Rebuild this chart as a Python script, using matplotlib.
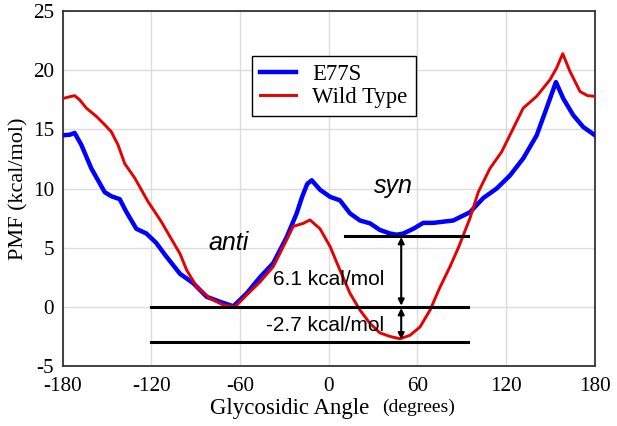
import numpy as np
import matplotlib.pyplot as plt

plt.rcParams["axes.unicode_minus"] = False

# PMF profiles (angle in degrees, PMF in kcal/mol)
e77s_angle = [-180, -175, -171.8, -167.3, -160.5, -151.5, -147, -141.3, -136.9, -130.1,
              -123.3, -116.6, -110.7, -100.6, -91.6, -82.5, -73.5, -64.5, -55.5, -46.5,
              -37.5, -28.4, -21.7, -18, -14.5, -11.5, -5.9, 0.9, 7.6, 14.4, 21.1, 27.9,
              34.6, 41.4, 46, 50.4, 57.2, 63.9, 70.7, 84.2, 95.5, 104.5, 113.5, 122.5,
              131.5, 140.6, 147.3, 153.6, 158.6, 165.3, 172.1, 180]
e77s_pmf = [14.5, 14.55, 14.7, 13.7, 11.7, 9.7, 9.35, 9.1, 8.04, 6.6,
            6.2, 5.4, 4.4, 2.8, 2.0, 0.85, 0.43, 0.05, 1.14, 2.5,
            3.7, 5.9, 7.9, 9.3, 10.4, 10.7, 9.9, 9.3, 9.0, 7.9, 7.3, 7.06,
            6.5, 6.2, 6.1, 6.2, 6.6, 7.1, 7.1, 7.3, 8.0, 9.2, 10.0, 11.1,
            12.55, 14.5, 16.8, 19.0, 17.6, 16.2, 15.2, 14.5]

wt_angle = [-180, -175.1, -171.8, -168.4, -163.9, -157.1, -151.5, -147, -142.5, -137.9,
            -131.2, -122.2, -113.2, -105.3, -100.6, -96, -89.3, -80.3, -71.3, -63.4,
            -55.5, -46.5, -37.5, -30.7, -24, -17.2, -12.7, -5.9, 0.9, 7.6, 14.4, 21.1,
            27.9, 34.6, 41.4, 48.2, 55, 61.7, 68.5, 75, 82, 88, 95.5, 101.1, 109, 116.9,
            124.8, 131.5, 140.6, 149.6, 154.1, 158.2, 163.1, 169.9, 175, 180]
wt_pmf = [17.6, 17.76, 17.85, 17.5, 16.8, 16.1, 15.4, 14.8, 13.7, 12.1,
          10.9, 8.9, 7.2, 5.5, 4.5, 3.1, 1.7, 0.72, 0.15, 0.0,
          1.0, 2.1, 3.4, 5.1, 6.8, 7.06, 7.35, 6.6, 5.1, 3.1, 1.14, -0.27,
          -1.4, -2.2, -2.5, -2.7, -2.4, -1.7, -0.27, 1.6, 3.4, 5.1, 7.5, 9.7, 11.7, 13.1,
          15.1, 16.8, 17.8, 19.2, 20.2, 21.4, 19.9, 18.2, 17.85, 17.8]

xticks = [-180, -120, -60, 0, 60, 120, 180]
yticks = [-5, 0, 5, 10, 15, 20, 25]

fig = plt.figure(figsize=(6.17, 4.26), dpi=100)
ax = fig.add_axes([0.1013, 0.1408, 0.863, 0.8332])

ax.plot(e77s_angle, e77s_pmf, color="#0000ff", lw=3.2, label="E77S", zorder=3,
        solid_joinstyle="round")
ax.plot(wt_angle, wt_pmf, color="#e60000", lw=2.1, label="Wild Type", zorder=3,
        solid_joinstyle="round")

# reference levels and energy differences
ax.plot([11, 94], [6, 6], color="black", lw=2.2, zorder=4)
ax.plot([-120, 94], [0, 0], color="black", lw=2.2, zorder=4)
ax.plot([-120, 94], [-3, -3], color="black", lw=2.2, zorder=4)
ax.annotate("", xy=(49, 5.9), xytext=(49, 0.1),
            arrowprops=dict(arrowstyle="<|-|>", color="black", lw=1.5,
                            mutation_scale=9, shrinkA=0, shrinkB=0), zorder=5)
ax.annotate("", xy=(49, -0.1), xytext=(49, -2.75),
            arrowprops=dict(arrowstyle="<|-|>", color="black", lw=1.5,
                            mutation_scale=9, shrinkA=0, shrinkB=0), zorder=5)

sans = "Liberation Sans"
ax.text(0.2, 2.3, "6.1 kcal/mol", fontsize=15, family=sans, ha="center", va="center", zorder=6)
ax.text(-2.2, -1.6, "-2.7 kcal/mol", fontsize=15, family=sans, ha="center", va="center", zorder=6)
ax.text(-67.4, 5.4, "anti", fontsize=18, family=sans, style="italic", ha="center", va="center")
ax.text(44, 10.2, "syn", fontsize=18, family=sans, style="italic", ha="center", va="center")

ax.set_xlim(-180, 180)
ax.set_ylim(-5, 25)
ax.set_xticks(xticks)
ax.set_yticks(yticks)
ax.tick_params(length=0, labelsize=15.2)
ax.tick_params(axis="x", pad=8)
ax.tick_params(axis="y", pad=6)
for lab in ax.get_xticklabels() + ax.get_yticklabels():
    lab.set_family("Liberation Serif")
ax.grid(True, color="#dcdcdc", lw=1)
ax.set_axisbelow(True)
for sp in ax.spines.values():
    sp.set_color("#333333")
    sp.set_linewidth(1.3)

ax.set_ylabel("PMF (kcal/mol)", fontsize=16, family="Liberation Serif", labelpad=3)
fig.text(369 / 617, 0.040, "Glycosidic Angle", fontsize=16.5, family="Liberation Serif",
         ha="right", va="center")
fig.text(382 / 617, 0.043, "(degrees)", fontsize=14, family="Liberation Serif",
         ha="left", va="center")

leg = ax.legend(loc="upper left", bbox_to_anchor=(252 / 617, 1 - 56 / 426),
                bbox_transform=fig.transFigure, prop={"family": "Liberation Serif", "size": 16.4},
                fancybox=False, edgecolor="black", framealpha=1, handlelength=1.6,
                handletextpad=0.7, borderpad=0.35, labelspacing=0.1, borderaxespad=0)
leg.get_frame().set_linewidth(1.0)

fig.savefig("out.png", dpi=100)
